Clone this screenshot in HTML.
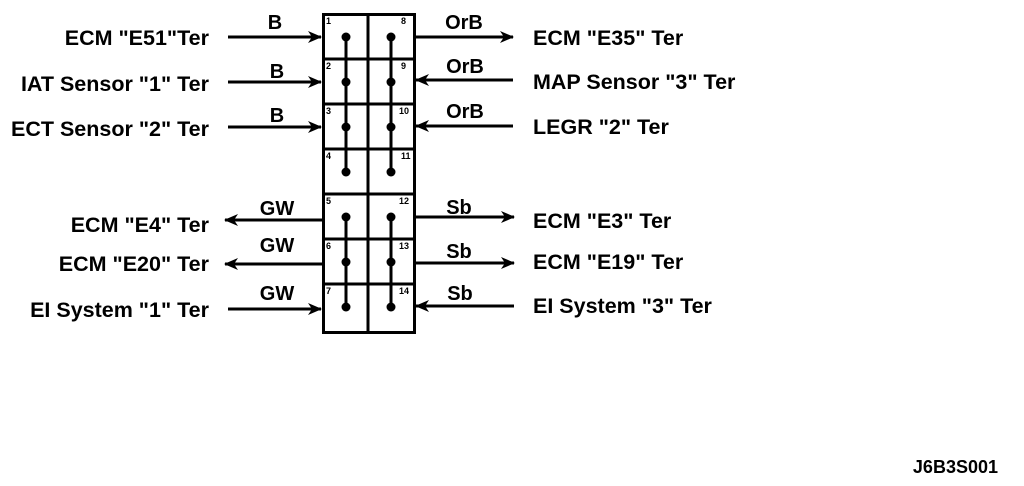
<!DOCTYPE html>
<html><head><meta charset="utf-8"><style>
html,body{margin:0;padding:0;background:#fff;}
svg{display:block;}
text{font-family:"Liberation Sans",Arial,sans-serif;fill:#000;font-weight:bold;}
.t{font-size:21.5px;}
.w{font-size:20px;}
.n{font-size:9px;}
</style></head><body>
<svg width="1024" height="486" viewBox="0 0 1024 486" xmlns="http://www.w3.org/2000/svg">
<defs>
<marker id="a" markerWidth="14" markerHeight="12" refX="13" refY="6" orient="auto" markerUnits="userSpaceOnUse" viewBox="0 0 14 12">
<path d="M0,0 L14,6 L0,12 L4,6 Z" fill="#000"/>
</marker>
</defs>
<g stroke="#000" stroke-width="3" fill="none">
<rect x="323.5" y="14.5" width="91" height="318"/>
<line x1="368" y1="14" x2="368" y2="333"/>
<line x1="323" y1="59" x2="415" y2="59"/>
<line x1="323" y1="104" x2="415" y2="104"/>
<line x1="323" y1="149" x2="415" y2="149"/>
<line x1="323" y1="194" x2="415" y2="194"/>
<line x1="323" y1="239" x2="415" y2="239"/>
<line x1="323" y1="284" x2="415" y2="284"/>
<line x1="346" y1="37" x2="346" y2="172"/>
<line x1="391" y1="37" x2="391" y2="172"/>
<line x1="346" y1="217" x2="346" y2="307"/>
<line x1="391" y1="217" x2="391" y2="307"/>
</g>
<g fill="#000">
<circle cx="346" cy="37" r="4.5"/><circle cx="346" cy="82" r="4.5"/><circle cx="346" cy="127" r="4.5"/><circle cx="346" cy="172" r="4.5"/>
<circle cx="391" cy="37" r="4.5"/><circle cx="391" cy="82" r="4.5"/><circle cx="391" cy="127" r="4.5"/><circle cx="391" cy="172" r="4.5"/>
<circle cx="346" cy="217" r="4.5"/><circle cx="346" cy="262" r="4.5"/><circle cx="346" cy="307" r="4.5"/>
<circle cx="391" cy="217" r="4.5"/><circle cx="391" cy="262" r="4.5"/><circle cx="391" cy="307" r="4.5"/>
</g>
<g stroke="#000" stroke-width="3" marker-end="url(#a)">
<line x1="228" y1="37" x2="321" y2="37"/>
<line x1="228" y1="82" x2="321" y2="82"/>
<line x1="228" y1="127" x2="321" y2="127"/>
<line x1="322" y1="220" x2="225" y2="220"/>
<line x1="322" y1="264" x2="225" y2="264"/>
<line x1="228" y1="309" x2="321" y2="309"/>
<line x1="416" y1="37" x2="513" y2="37"/>
<line x1="513" y1="80" x2="416" y2="80"/>
<line x1="513" y1="126" x2="416" y2="126"/>
<line x1="416" y1="217" x2="514" y2="217"/>
<line x1="416" y1="263" x2="514" y2="263"/>
<line x1="514" y1="306" x2="416" y2="306"/>
</g>
<g class="n">
<text x="326" y="24">1</text><text x="326" y="69">2</text><text x="326" y="114">3</text><text x="326" y="159">4</text>
<text x="326" y="204">5</text><text x="326" y="249">6</text><text x="326" y="294">7</text>
<text x="401" y="24">8</text><text x="401" y="69">9</text><text x="399" y="114">10</text><text x="401" y="159">11</text>
<text x="399" y="204">12</text><text x="399" y="249">13</text><text x="399" y="294">14</text>
</g>
<g class="w" text-anchor="middle">
<text x="275" y="29">B</text><text x="277" y="78">B</text><text x="277" y="122">B</text>
<text x="277" y="215">GW</text><text x="277" y="252">GW</text><text x="277" y="300">GW</text>
<text x="464" y="29">OrB</text><text x="465" y="73">OrB</text><text x="465" y="118">OrB</text>
<text x="459" y="214">Sb</text><text x="459" y="258">Sb</text><text x="460" y="300">Sb</text>
</g>
<g class="t" text-anchor="end">
<text x="209" y="45">ECM "E51"Ter</text>
<text x="209" y="91">IAT Sensor "1" Ter</text>
<text x="209" y="136">ECT Sensor "2" Ter</text>
<text x="209" y="232">ECM "E4" Ter</text>
<text x="209" y="271">ECM "E20" Ter</text>
<text x="209" y="317">EI System "1" Ter</text>
</g>
<g class="t">
<text x="533" y="45">ECM "E35" Ter</text>
<text x="533" y="89">MAP Sensor "3" Ter</text>
<text x="533" y="134">LEGR "2" Ter</text>
<text x="533" y="228">ECM "E3" Ter</text>
<text x="533" y="269">ECM "E19" Ter</text>
<text x="533" y="313">EI System "3" Ter</text>
</g>
<text x="998" y="473" text-anchor="end" style="font-size:18px">J6B3S001</text>
</svg>
</body></html>
